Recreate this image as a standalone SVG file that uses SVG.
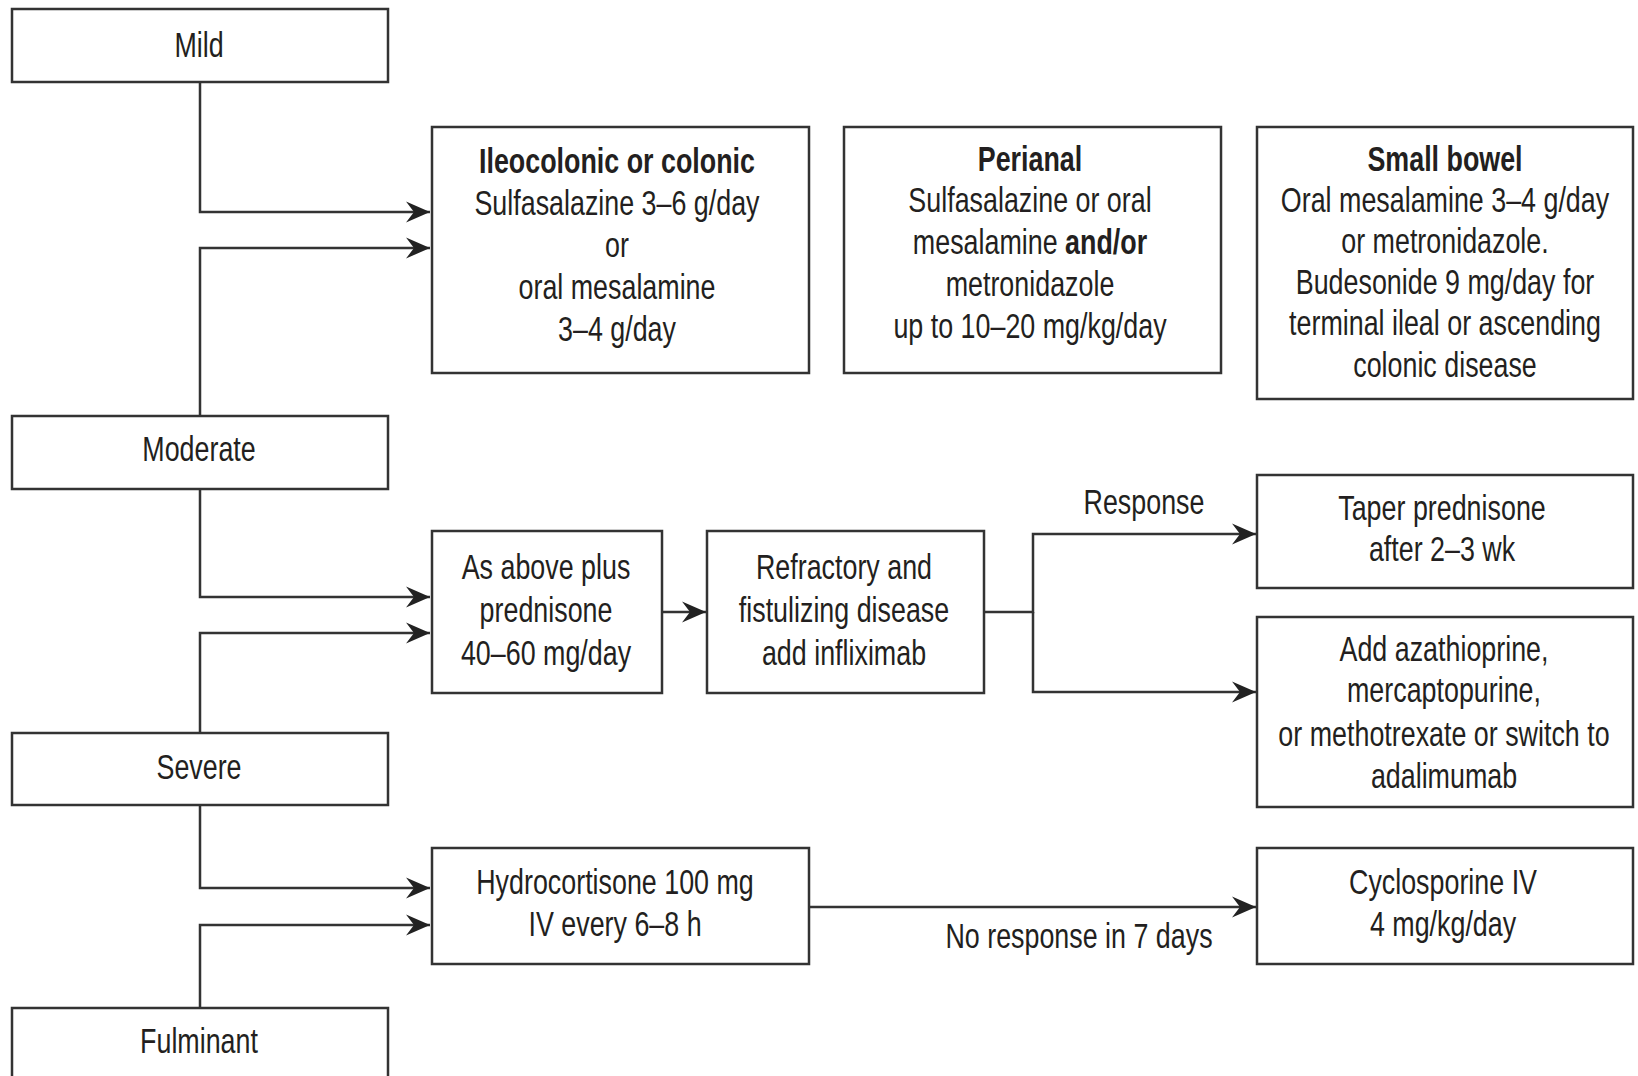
<svg xmlns="http://www.w3.org/2000/svg" width="1638" height="1076" viewBox="0 0 1638 1076">
<defs>
<style>
.box{fill:#fff;stroke:#333;stroke-width:2.5}
.t{font-family:"Liberation Sans",Arial,sans-serif;font-size:36px;fill:#231f20;text-anchor:middle}
.b{font-weight:bold}
.c{fill:none;stroke:#333;stroke-width:2.5}
</style>
<marker id="ah" markerUnits="userSpaceOnUse" viewBox="-25 -12 27 24" refX="0" refY="0" markerWidth="27" markerHeight="24" orient="auto">
<path d="M0,0 L-24,-10.5 L-16,0 L-24,10.5 Z" fill="#222"/>
</marker>
</defs>
<rect width="1638" height="1076" fill="#fff"/>
<g id="connectors">
<path class="c" d="M200,82 V212 H430" marker-end="url(#ah)"/>
<path class="c" d="M200,416 V248 H430" marker-end="url(#ah)"/>
<path class="c" d="M200,489 V597 H430" marker-end="url(#ah)"/>
<path class="c" d="M200,733 V633 H430" marker-end="url(#ah)"/>
<path class="c" d="M662,612 H706" marker-end="url(#ah)"/>
<path class="c" d="M984,612 H1033 V534 H1256" marker-end="url(#ah)"/>
<path class="c" d="M1033,612 V692 H1256" marker-end="url(#ah)"/>
<path class="c" d="M200,805 V888 H430" marker-end="url(#ah)"/>
<path class="c" d="M200,1008 V925 H430" marker-end="url(#ah)"/>
<path class="c" d="M809,907 H1256" marker-end="url(#ah)"/>
<g transform="translate(1144,0) scale(0.746,1)"><text class="t" x="0" y="514">Response</text></g>
<g transform="translate(1079,0) scale(0.746,1)"><text class="t" x="0" y="948">No response in 7 days</text></g>
</g>
<g id="mild"><rect class="box" x="12" y="9" width="376" height="73"/><g transform="translate(199,0) scale(0.746,1)"><text class="t" x="0" y="57">Mild</text></g></g>
<g id="moderate"><rect class="box" x="12" y="416" width="376" height="73"/><g transform="translate(199,0) scale(0.746,1)"><text class="t" x="0" y="461">Moderate</text></g></g>
<g id="severe"><rect class="box" x="12" y="733" width="376" height="72"/><g transform="translate(199,0) scale(0.746,1)"><text class="t" x="0" y="779">Severe</text></g></g>
<g id="fulminant"><rect class="box" x="12" y="1008" width="376" height="100"/><g transform="translate(199,0) scale(0.746,1)"><text class="t" x="0" y="1053">Fulminant</text></g></g>
<g id="ileocolonic"><rect class="box" x="432" y="127" width="377" height="246"/>
<g transform="translate(617,0) scale(0.746,1)"><text class="t"><tspan class="b" x="0" y="173">Ileocolonic or colonic</tspan><tspan x="0" y="215">Sulfasalazine 3–6 g/day</tspan><tspan x="0" y="257">or</tspan><tspan x="0" y="299">oral mesalamine</tspan><tspan x="0" y="341">3–4 g/day</tspan></text></g></g>
<g id="perianal"><rect class="box" x="844" y="127" width="377" height="246"/>
<g transform="translate(1030,0) scale(0.746,1)"><text class="t"><tspan class="b" x="0" y="171">Perianal</tspan><tspan x="0" y="212">Sulfasalazine or oral</tspan><tspan x="0" y="254">mesalamine <tspan class="b">and/or</tspan></tspan><tspan x="0" y="296">metronidazole</tspan><tspan x="0" y="338">up to 10–20 mg/kg/day</tspan></text></g></g>
<g id="smallbowel"><rect class="box" x="1257" y="127" width="376" height="272"/>
<g transform="translate(1445,0) scale(0.746,1)"><text class="t"><tspan class="b" x="0" y="171">Small bowel</tspan><tspan x="0" y="212">Oral mesalamine 3–4 g/day</tspan><tspan x="0" y="253">or metronidazole.</tspan><tspan x="0" y="294">Budesonide 9 mg/day for</tspan><tspan x="0" y="335">terminal ileal or ascending</tspan><tspan x="0" y="377">colonic disease</tspan></text></g></g>
<g id="asabove"><rect class="box" x="432" y="531" width="230" height="162"/>
<g transform="translate(546,0) scale(0.746,1)"><text class="t"><tspan x="0" y="579">As above plus</tspan><tspan x="0" y="622">prednisone</tspan><tspan x="0" y="665">40–60 mg/day</tspan></text></g></g>
<g id="refractory"><rect class="box" x="707" y="531" width="277" height="162"/>
<g transform="translate(844,0) scale(0.746,1)"><text class="t"><tspan x="0" y="579">Refractory and</tspan><tspan x="0" y="622">fistulizing disease</tspan><tspan x="0" y="665">add infliximab</tspan></text></g></g>
<g id="taper"><rect class="box" x="1257" y="475" width="376" height="113"/>
<g transform="translate(1442,0) scale(0.746,1)"><text class="t"><tspan x="0" y="520">Taper prednisone</tspan><tspan x="0" y="561">after 2–3 wk</tspan></text></g></g>
<g id="add"><rect class="box" x="1257" y="617" width="376" height="190"/>
<g transform="translate(1444,0) scale(0.746,1)"><text class="t"><tspan x="0" y="661">Add azathioprine,</tspan><tspan x="0" y="702">mercaptopurine,</tspan><tspan x="0" y="746">or methotrexate or switch to</tspan><tspan x="0" y="788">adalimumab</tspan></text></g></g>
<g id="hydrocortisone"><rect class="box" x="432" y="848" width="377" height="116"/>
<g transform="translate(615,0) scale(0.746,1)"><text class="t"><tspan x="0" y="894">Hydrocortisone 100 mg</tspan><tspan x="0" y="936">IV every 6–8 h</tspan></text></g></g>
<g id="cyclosporine"><rect class="box" x="1257" y="848" width="376" height="116"/>
<g transform="translate(1443,0) scale(0.746,1)"><text class="t"><tspan x="0" y="894">Cyclosporine IV</tspan><tspan x="0" y="936">4 mg/kg/day</tspan></text></g></g>
</svg>
